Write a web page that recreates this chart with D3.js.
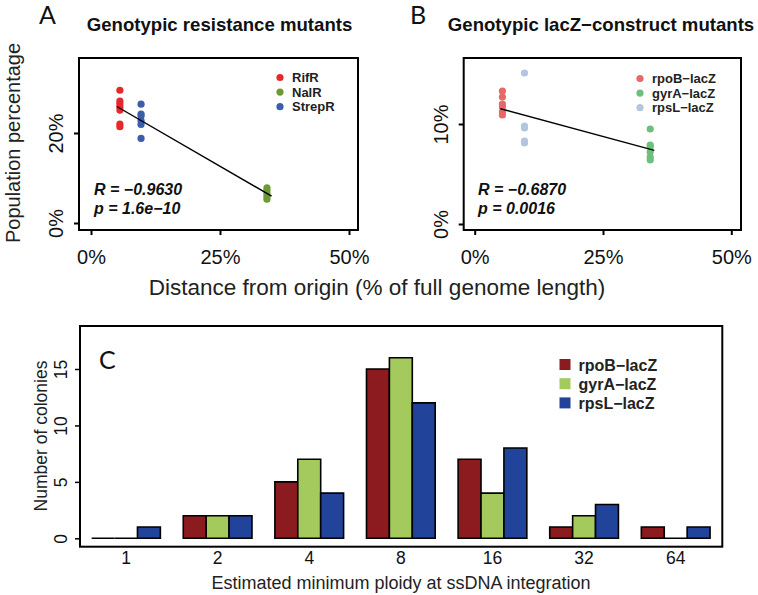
<!DOCTYPE html>
<html><head><meta charset="utf-8">
<script src="https://cdn.jsdelivr.net/npm/d3@7"></script>
<style>
body{margin:0;background:#fff;}
svg{display:block;font-family:"Liberation Sans",Arial,sans-serif;}
</style></head><body>
<svg id="c" width="758" height="595"></svg>
<script>
// ---------- Panel A data (distance from origin %, population %) ----------
const aSeries = ["RifR", "NalR", "StrepR"];
const aPositions = [5.6, 34.1, 9.7];
const aRifR = [29.5, 27.1, 26.5, 25.8, 25.1, 22.0, 21.4];
const aNalR = [7.8, 7.2, 6.5, 5.9, 5.3];
const aStrepR = [26.4, 24.2, 23.8, 22.7, 21.9, 18.8];
const aColors = ["#e5282c", "#6e9935", "#3b5daa"];
const aStats = ["R = \u22120.9630", "p = 1.6e\u221210"];
const aXTicks = [0, 25, 50];
const aYTicks = [0, 20];

// ---------- Panel B data ----------
const bSeries = ["rpoB\u2212lacZ", "gyrA\u2212lacZ", "rpsL\u2212lacZ"];
const bPositions = [5.4, 34.2, 9.7];
const bRpoB = [13.3, 12.7, 12.0, 11.7, 11.2, 10.9];
const bGyrA = [9.5, 7.9, 7.7, 7.2, 6.7, 6.4];
const bRpsL = [15.1, 9.8, 9.6, 8.3, 8.1];
const bColors = ["#e8686a", "#6cc07b", "#b3c5df"];
const bStats = ["R = \u22120.6870", "p = 0.0016"];
const bXTicks = [0, 25, 50];
const bYTicks = [0, 10];
const fitRange = [5, 35];

// ---------- Panel C data ----------
const ploidy = ["1", "2", "4", "8", "16", "32", "64"];
const cSeries = ["rpoB\u2212lacZ", "gyrA\u2212lacZ", "rpsL\u2212lacZ"];
const cRpoB = [0, 2, 5, 15, 7, 1, 1];
const cGyrA = [0, 2, 7, 16, 4, 2, 0];
const cRpsL = [1, 2, 4, 12, 8, 3, 1];
const cColors = ["#8b1b1e", "#a4ca5d", "#22439a"];
const cYTicks = [0, 5, 10, 15];

const svg = d3.select("#c");

function linfit(pts){
  const mx = d3.mean(pts, d => d[0]), my = d3.mean(pts, d => d[1]);
  const sxy = d3.sum(pts, d => (d[0]-mx)*(d[1]-my));
  const sxx = d3.sum(pts, d => (d[0]-mx)*(d[0]-mx));
  const b = sxy/sxx; return {a: my - b*mx, b};
}

function scatterPanel(cfg){
  const g = svg.append("g");
  const x = d3.scaleLinear().domain([0,50]).range(cfg.xr);
  const y = d3.scaleLinear().domain(cfg.yd).range(cfg.yr);
  g.append("rect").attr("x", cfg.box[0]).attr("y", cfg.box[1])
    .attr("width", cfg.box[2]-cfg.box[0]).attr("height", cfg.box[3]-cfg.box[1])
    .attr("fill","none").attr("stroke","#000").attr("stroke-width",2);
  const xa = g.append("g").attr("transform",`translate(0,${cfg.box[3]})`)
    .call(d3.axisBottom(x).tickValues(cfg.xt).tickSize(5).tickSizeOuter(0).tickFormat(d => d + "%"));
  xa.select(".domain").remove();
  xa.selectAll("line").attr("stroke-width",2);
  xa.selectAll("text").attr("dy",null).attr("y",34).attr("font-size",20)
    .attr("font-family","Liberation Sans, Arial, sans-serif").attr("fill","#111");
  const ya = g.append("g").attr("transform",`translate(${cfg.box[0]},0)`)
    .call(d3.axisLeft(y).tickValues(cfg.yt).tickSize(5).tickSizeOuter(0).tickFormat(d => d + "%"));
  ya.select(".domain").remove();
  ya.selectAll("line").attr("stroke-width",2);
  ya.selectAll("text").attr("x",null).attr("dy",null).attr("y",null)
    .attr("text-anchor","middle").attr("transform","translate(-16,0) rotate(-90)")
    .attr("font-size",20).attr("font-family","Liberation Sans, Arial, sans-serif").attr("fill","#111");
  const all = [];
  cfg.series.forEach((vals, i) => {
    vals.forEach(v => all.push([cfg.pos[i], v]));
    g.selectAll(null).data(vals).enter().append("circle")
      .attr("cx", x(cfg.pos[i])).attr("cy", d => y(d)).attr("r", 3.6)
      .attr("fill", cfg.colors[i]);
  });
  const f = linfit(all);
  g.append("line").attr("x1", x(fitRange[0])).attr("y1", y(f.a + f.b*fitRange[0]))
    .attr("x2", x(fitRange[1])).attr("y2", y(f.a + f.b*fitRange[1]))
    .attr("stroke","#000").attr("stroke-width",1.4);
  cfg.names.forEach((n, i) => {
    g.append("circle").attr("cx", cfg.leg[0]).attr("cy", cfg.leg[1] + i*14.6).attr("r",3.6).attr("fill",cfg.colors[i]);
    g.append("text").attr("x", cfg.leg[0]+12).attr("y", cfg.leg[1] + i*14.6 + 4.6)
      .attr("font-size", 13).attr("font-weight","bold").attr("fill","#222").text(n);
  });
  cfg.stats.forEach((s, i) => {
    g.append("text").attr("x", cfg.statX).attr("y", 195 + i*19)
      .attr("font-size", 16).attr("font-weight","bold").attr("font-style","italic").attr("fill","#111").text(s);
  });
  g.append("text").attr("x", cfg.titleX).attr("y", 31).attr("text-anchor","middle")
    .attr("font-size",18.6).attr("font-weight","bold").attr("fill","#111").text(cfg.title);
  g.append("text").attr("x", cfg.letterX).attr("y", 24).attr("font-size",25)
    .attr("font-family","Lato, 'Open Sans', sans-serif").attr("fill","#111").text(cfg.letter);
}

scatterPanel({
  xr:[91,349], yd:[0,20], yr:[223,133], box:[79,58,358,230], xt:aXTicks, yt:aYTicks,
  series:[aRifR, aNalR, aStrepR], pos:aPositions, colors:aColors, names:aSeries,
  leg:[280,77.5], stats:aStats, statX:94, title:"Genotypic resistance mutants", titleX:219.5,
  letter:"A", letterX:39
});
scatterPanel({
  xr:[474.7,731.3], yd:[0,10], yr:[224,124], box:[463.7,58,741,230], xt:bXTicks, yt:bYTicks,
  series:[bRpoB, bGyrA, bRpsL], pos:bPositions, colors:bColors, names:bSeries,
  leg:[640,78.5], stats:bStats, statX:478, title:"Genotypic lacZ\u2212construct mutants", titleX:601,
  letter:"B", letterX:410
});

svg.append("text").attr("transform","translate(20,143) rotate(-90)").attr("text-anchor","middle")
  .attr("font-size",20).attr("fill","#222").text("Population percentage");
svg.append("text").attr("x",377).attr("y",295).attr("text-anchor","middle")
  .attr("font-size",22.5).attr("fill","#222").text("Distance from origin (% of full genome length)");

// ---------- Panel C ----------
const gc = svg.append("g");
const cBox = [80, 326, 722.3, 546.7];
const xg = d3.scaleBand().domain(ploidy).range([80.2, 721.5]).paddingInner(0.25).paddingOuter(0.125);
const xs = d3.scaleBand().domain(cSeries).range([0, xg.bandwidth()]);
const yc = d3.scaleLinear().domain([0,15]).range([538.3,369]);
const cData = [cRpoB, cGyrA, cRpsL];

cSeries.forEach((s, si) => {
  gc.selectAll(null).data(cData[si]).enter().append("path")
    .attr("d", (d,i) => {
      const x0 = xg(ploidy[i]) + xs(s), w = xs.bandwidth();
      const y0 = yc(0), y1 = yc(d);
      return `M${x0},${y0}H${x0+w}V${y1}H${x0}Z`;
    })
    .attr("fill", cColors[si]).attr("stroke","#000").attr("stroke-width",1.6)
    .attr("stroke-linejoin","miter");
});
gc.append("rect").attr("x",cBox[0]).attr("y",cBox[1]).attr("width",cBox[2]-cBox[0]).attr("height",cBox[3]-cBox[1])
  .attr("fill","none").attr("stroke","#000").attr("stroke-width",2);
const cya = gc.append("g").attr("transform",`translate(${cBox[0]},0)`)
  .call(d3.axisLeft(yc).tickValues(cYTicks).tickSize(5).tickSizeOuter(0));
cya.select(".domain").remove();
cya.selectAll("line").attr("stroke-width",1.5);
cya.selectAll("text").attr("x",null).attr("dy",null).attr("y",null).attr("text-anchor","middle")
  .attr("transform","translate(-13,0) rotate(-90)").attr("font-size",17.5)
  .attr("font-family","Liberation Sans, Arial, sans-serif").attr("fill","#111");
const cxa = gc.append("g").attr("transform",`translate(0,${cBox[3]})`)
  .call(d3.axisBottom(xg).tickSize(0).tickSizeOuter(0));
cxa.select(".domain").remove();
cxa.selectAll("text").attr("dy",null).attr("y",17).attr("font-size",17.5)
  .attr("font-family","Liberation Sans, Arial, sans-serif").attr("fill","#111");
gc.append("text").attr("x",401).attr("y",589).attr("text-anchor","middle").attr("font-size",18)
  .attr("fill","#222").text("Estimated minimum ploidy at ssDNA integration");
gc.append("text").attr("transform","translate(47,436) rotate(-90)").attr("text-anchor","middle")
  .attr("font-size",17.5).attr("fill","#222").text("Number of colonies");
gc.append("text").attr("x",99).attr("y",368.5).attr("font-size",25)
  .attr("font-family","Lato, 'Open Sans', sans-serif").attr("fill","#111").text("C");
cSeries.forEach((s, i) => {
  gc.append("rect").attr("x",559.5).attr("y",359 + i*19.2).attr("width",11).attr("height",11).attr("fill",cColors[i]);
  gc.append("text").attr("x",578.5).attr("y",370.5 + i*19.2).attr("font-size",16).attr("font-weight","bold")
    .attr("fill","#222").text(s);
});
</script>
</body></html>
